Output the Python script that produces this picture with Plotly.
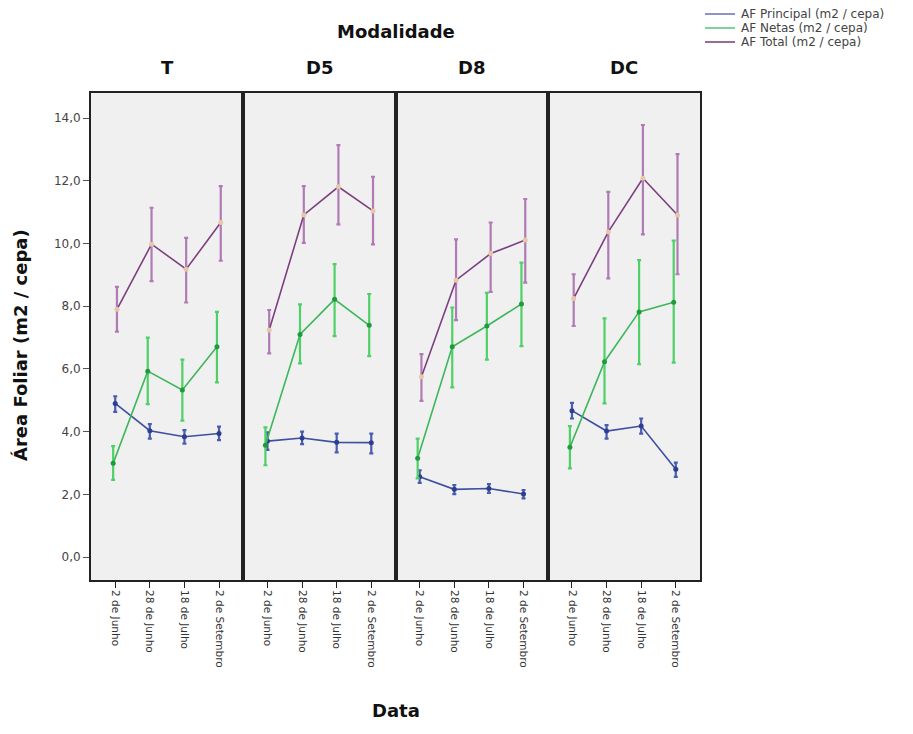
import plotly.graph_objects as go
from plotly.subplots import make_subplots

panels = ["T", "D5", "D8", "DC"]
dates = ["2 de Junho", "28 de Junho", "18 de Julho", "2 de Setembro"]

# values per panel (T, D5, D8, DC), 4 dates each
principal = [[4.90, 4.03, 3.84, 3.94], [3.70, 3.80, 3.66, 3.65],
             [2.56, 2.16, 2.19, 2.01], [4.67, 4.02, 4.18, 2.80]]
principal_hi = [[5.13, 4.24, 4.05, 4.16], [3.98, 4.00, 3.94, 3.94],
                [2.77, 2.30, 2.33, 2.14], [4.92, 4.21, 4.42, 3.01]]
principal_lo = [[4.63, 3.78, 3.62, 3.73], [3.42, 3.60, 3.34, 3.31],
                [2.37, 2.01, 2.05, 1.87], [4.42, 3.78, 3.94, 2.56]]

netas = [[2.99, 5.93, 5.33, 6.71], [3.57, 7.10, 8.22, 7.39],
         [3.15, 6.71, 7.37, 8.07], [3.50, 6.23, 7.82, 8.13]]
netas_hi = [[3.54, 7.00, 6.30, 7.82], [4.14, 8.06, 9.34, 8.39],
            [3.78, 7.96, 8.43, 9.39], [4.18, 7.61, 9.47, 10.09]]
netas_lo = [[2.46, 4.88, 4.35, 5.57], [2.93, 6.18, 7.05, 6.41],
            [2.51, 5.41, 6.30, 6.73], [2.83, 4.90, 6.15, 6.20]]

total = [[7.90, 9.98, 9.18, 10.67], [7.24, 10.91, 11.81, 11.04],
         [5.75, 8.83, 9.68, 10.11], [8.25, 10.37, 12.08, 10.91]]
total_hi = [[8.62, 11.14, 10.18, 11.83], [7.88, 11.83, 13.14, 12.13],
            [6.47, 10.13, 10.67, 11.42], [9.02, 11.65, 13.78, 12.85]]
total_lo = [[7.19, 8.80, 8.12, 9.45], [6.50, 10.02, 10.61, 9.97],
            [4.98, 7.56, 8.46, 8.75], [7.37, 8.89, 10.29, 9.02]]

yticks = [0, 2, 4, 6, 8, 10, 12, 14]
ytick_labels = ["0,0", "2,0", "4,0", "6,0", "8,0", "10,0", "12,0", "14,0"]

series = [
    ("AF Principal (m2 / cepa)", principal, principal_hi, principal_lo,
     "#3d4f9f", "#2c3f8f", "#4a5cb0", 0.0, "#8f92c8"),
    ("AF Netas (m2 / cepa)", netas, netas_hi, netas_lo,
     "#3cb85a", "#1f9a3c", "#4fd067", -0.06, "#7fd396"),
    ("AF Total (m2 / cepa)", total, total_hi, total_lo,
     "#7d3f7f", "#e6c8a8", "#b07ab4", 0.05, "#9a6a9c"),
]

FONT = "DejaVu Sans, Liberation Sans, Arial, sans-serif"

fig = make_subplots(rows=1, cols=4, shared_yaxes=True, horizontal_spacing=0)

for p in range(4):
    for name, vals, hi, lo, lc, mc, ec, off, _ in series:
        v = vals[p]
        xs = [i + off for i in range(4)]
        fig.add_trace(go.Scatter(
            x=xs, y=v, mode="lines+markers", name=name, showlegend=False,
            line=dict(color=lc, width=1.6),
            marker=dict(color=mc, size=5, line=dict(width=0)),
            error_y=dict(type="data", symmetric=False,
                         array=[h - a for h, a in zip(hi[p], v)],
                         arrayminus=[a - l for a, l in zip(v, lo[p])],
                         color=ec, thickness=2.2, width=2),
        ), row=1, col=p + 1)

for p in range(4):
    fig.update_xaxes(
        row=1, col=p + 1, range=[-0.7, 3.7], tickvals=[0, 1, 2, 3],
        ticktext=dates, tickangle=90, ticks="outside", ticklen=6,
        tickcolor="#222", showgrid=False, zeroline=False,
        showline=True, linecolor="#222", linewidth=2, mirror=True,
        tickfont=dict(size=10.5, color="#333", family=FONT),
    )
fig.update_yaxes(
    range=[-0.73, 14.8], tickvals=yticks, ticktext=ytick_labels,
    showgrid=False, zeroline=False, showline=True, linecolor="#222",
    linewidth=2, mirror=True,
)
fig.update_yaxes(row=1, col=1, ticks="outside", ticklen=6, tickcolor="#555",
                 tickfont=dict(size=12, color="#444", family=FONT))

# plot area spans x 91..700 px, y 93..580 px
L, R, T, B = 91, 700, 93, 580
def px(x):
    return (x - L) / (R - L)
def py(y):
    return (B - y) / (B - T)

TITLE_FONT = dict(size=18, color="#111", family=FONT)
centers = [(0.125 + 0.25 * i) for i in range(4)]
annotations = []
for c, t in zip(centers, panels):
    annotations.append(dict(text="<b>%s</b>" % t, x=c, y=py(68), xref="paper",
                            yref="paper", showarrow=False,
                            xanchor="center", yanchor="middle",
                            font=TITLE_FONT))
annotations.append(dict(text="<b>Modalidade</b>", x=0.5, y=py(32), xref="paper",
                        yref="paper", showarrow=False,
                        xanchor="center", yanchor="middle", font=TITLE_FONT))
annotations.append(dict(text="<b>Data</b>", x=0.5, y=py(710), xref="paper",
                        yref="paper", showarrow=False,
                        xanchor="center", yanchor="middle", font=TITLE_FONT))
annotations.append(dict(text="<b>Área Foliar (m2 / cepa)</b>", x=px(20), y=py(345),
                        xref="paper", yref="paper", showarrow=False,
                        xanchor="center", yanchor="middle",
                        textangle=-90, font=TITLE_FONT))

# manual legend (lines + real text)
shapes = []
legend_rows = [14, 28, 42]
for (name, *_r), yy in zip(series, legend_rows):
    legc = _r[-1]
    shapes.append(dict(type="line", xref="paper", yref="paper",
                       x0=px(705), x1=px(735), y0=py(yy), y1=py(yy),
                       line=dict(color=legc, width=2)))
    annotations.append(dict(text=name, x=px(739), y=py(yy), xref="paper",
                            yref="paper", xanchor="left", yanchor="middle",
                            showarrow=False,
                            font=dict(size=12, color="#444", family=FONT)))

fig.update_layout(
    width=913, height=734,
    margin=dict(l=L, r=913 - R, t=T, b=734 - B, autoexpand=False),
    paper_bgcolor="white", plot_bgcolor="#f0f0f0",
    font=dict(family=FONT),
    annotations=annotations, shapes=shapes, showlegend=False,
)

fig.write_html("out.html")
